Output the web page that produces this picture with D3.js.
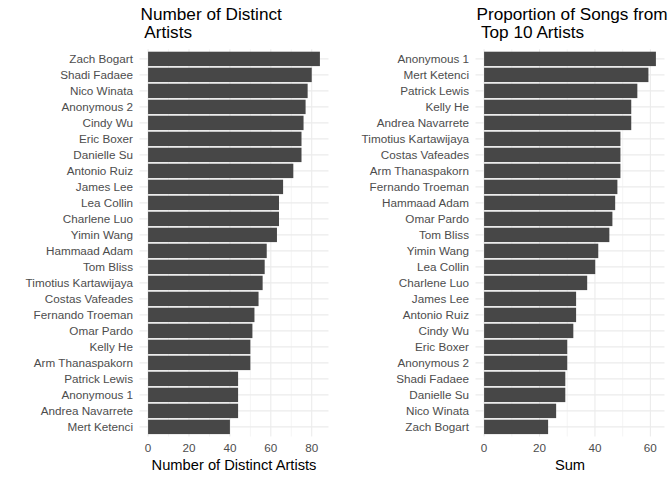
<!DOCTYPE html>
<html>
<head>
<meta charset="utf-8">
<script src="https://cdn.jsdelivr.net/npm/d3@7"></script>
<style>
  body { margin: 0; background: #fff; }
  text { font-family: "Liberation Sans", Arial, Helvetica, sans-serif; }
</style>
</head>
<body>
<svg id="chart" width="672" height="480"></svg>
<script>
// Left panel: Number of Distinct Artists (top to bottom)
const leftNames = ["Zach Bogart","Shadi Fadaee","Nico Winata","Anonymous 2","Cindy Wu","Eric Boxer","Danielle Su","Antonio Ruiz","James Lee","Lea Collin","Charlene Luo","Yimin Wang","Hammaad Adam","Tom Bliss","Timotius Kartawijaya","Costas Vafeades","Fernando Troeman","Omar Pardo","Kelly He","Arm Thanaspakorn","Patrick Lewis","Anonymous 1","Andrea Navarrete","Mert Ketenci"];
const leftValues = [84,80,78,77,76,75,75,71,66,64,64,63,58,57,56,54,52,51,50,50,44,44,44,40];
const leftTicks = [0,20,40,60,80];
const leftMinor = [10,30,50,70];

// Right panel: Proportion of Songs from Top 10 Artists (top to bottom)
const rightNames = ["Anonymous 1","Mert Ketenci","Patrick Lewis","Kelly He","Andrea Navarrete","Timotius Kartawijaya","Costas Vafeades","Arm Thanaspakorn","Fernando Troeman","Hammaad Adam","Omar Pardo","Tom Bliss","Yimin Wang","Lea Collin","Charlene Luo","James Lee","Antonio Ruiz","Cindy Wu","Eric Boxer","Anonymous 2","Shadi Fadaee","Danielle Su","Nico Winata","Zach Bogart"];
const rightValues = [62,59.3,55.3,53.1,53.1,49.2,49.2,49.2,48.1,47.3,46.3,45.2,41.2,40.1,37.2,33.2,33.2,32.2,30,30,29.3,29.3,26,23.1];
const rightTicks = [0,20,40,60];
const rightMinor = [10,30,50];

const svg = d3.select("#chart");
const barColor = "#474747";
const gridColor = "#ebebeb";
const panelTop = 49.3, panelBottom = 436.5;

function panel(cfg) {
  const g = svg.append("g");
  const maxV = d3.max(cfg.values);
  const x = d3.scaleLinear().domain([-0.05 * maxV, maxV * 1.05]).range([cfg.x0, cfg.x1]);
  const y = d3.scaleBand().domain(cfg.names).range([panelTop, panelBottom]).paddingInner(0.1).paddingOuter(0.15);

  g.selectAll(".minor").data(cfg.minor).enter().append("line")
    .attr("x1", d => x(d)).attr("x2", d => x(d))
    .attr("y1", panelTop).attr("y2", panelBottom)
    .attr("stroke", gridColor).attr("stroke-width", 0.55);
  g.selectAll(".major").data(cfg.ticks).enter().append("line")
    .attr("x1", d => x(d)).attr("x2", d => x(d))
    .attr("y1", panelTop).attr("y2", panelBottom)
    .attr("stroke", gridColor).attr("stroke-width", 1.1);
  g.selectAll(".hgrid").data(cfg.names).enter().append("line")
    .attr("x1", cfg.x0).attr("x2", cfg.x1)
    .attr("y1", d => y(d) + y.bandwidth() / 2).attr("y2", d => y(d) + y.bandwidth() / 2)
    .attr("stroke", gridColor).attr("stroke-width", 1.1);

  g.selectAll(".bar").data(cfg.names.map((n, i) => ({ n, v: cfg.values[i] }))).enter().append("rect")
    .attr("x", x(0)).attr("y", d => y(d.n))
    .attr("width", d => x(d.v) - x(0)).attr("height", y.bandwidth())
    .attr("fill", barColor);

  g.selectAll(".ylab").data(cfg.names).enter().append("text")
    .attr("x", cfg.x0 - 6.5).attr("y", d => y(d) + y.bandwidth() / 2)
    .attr("dy", "0.35em").attr("text-anchor", "end")
    .attr("font-size", "11.7px").attr("fill", "#4d4d4d")
    .text(d => d);

  g.selectAll(".xlab").data(cfg.ticks).enter().append("text")
    .attr("x", d => x(d)).attr("y", 452)
    .attr("text-anchor", "middle")
    .attr("font-size", "11.7px").attr("fill", "#4d4d4d")
    .text(d => d);

  g.append("text")
    .attr("x", (cfg.x0 + cfg.x1) / 2).attr("y", 469.5)
    .attr("text-anchor", "middle").attr("font-size", "14.7px").attr("fill", "#000")
    .text(cfg.xTitle);

  cfg.title.forEach((line, i) => {
    g.append("text").attr("x", cfg.titleX).attr("y", 19.8 + i * 18.4)
      .attr("font-size", "17.2px").attr("fill", "#000").style("white-space", "pre")
      .text(line);
  });
}

panel({ names: leftNames, values: leftValues, ticks: leftTicks, minor: leftMinor,
  x0: 139.5, x1: 328.5, xTitle: "Number of Distinct Artists",
  title: ["Number of Distinct", " Artists"], titleX: 140.5 });
panel({ names: rightNames, values: rightValues, ticks: rightTicks, minor: rightMinor,
  x0: 475.5, x1: 664.5, xTitle: "Sum",
  title: ["Proportion of Songs from", " Top 10 Artists"], titleX: 476.5 });
</script>
</body>
</html>
